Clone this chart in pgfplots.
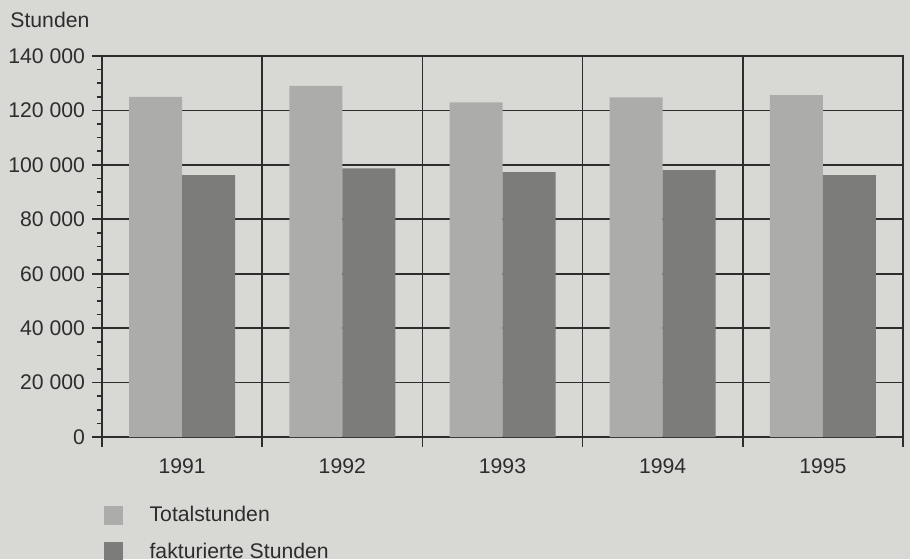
\documentclass[border=0pt]{standalone}
\usepackage{fontspec}
\setmainfont{Liberation Sans}
\usepackage{pgfplots}
\pgfplotsset{compat=1.18}
\definecolor{paper}{RGB}{216,216,213}
\definecolor{lightbar}{RGB}{172,172,170}
\definecolor{darkbar}{RGB}{124,124,122}
\definecolor{ink}{RGB}{45,45,45}
\begin{document}
\fontsize{10.6}{12.7}\selectfont
\begin{tikzpicture}
\useasboundingbox[fill=paper] (0,0) rectangle (455pt,279.5pt);
\node[anchor=west, text=ink, inner sep=0pt] at (5pt,269.5pt) {Stunden};
\begin{axis}[
  at={(51pt,61pt)}, anchor=south west,
  scale only axis, width=400.5pt, height=190.5pt,
  ybar=0pt, bar width=26.5pt,
  xmin=-0.5, xmax=4.5, ymin=0, ymax=140000,
  xtick={-0.5,0.5,1.5,2.5,3.5,4.5},
  xticklabels={\mbox{},\mbox{},\mbox{},\mbox{},\mbox{},\mbox{}},
  extra x ticks={0,1,2,3,4},
  extra x tick labels={1991,1992,1993,1994,1995},
  extra x tick style={major tick length=0pt, grid=none},
  ytick={0,20000,40000,60000,80000,100000,120000,140000},
  yticklabels={0,20\ 000,40\ 000,60\ 000,80\ 000,100\ 000,120\ 000,140\ 000},
  minor y tick num=3,
  xtick pos=bottom, ytick pos=left,
  xmajorgrids, ymajorgrids,
  tick align=outside, major tick length=4.75pt, minor tick length=2.5pt,
  axis line style={ink, line width=1pt},
  every tick/.style={ink, line width=0.8pt},
  major grid style={ink, line width=0.85pt},
  scaled y ticks=false,
  tick label style={text=ink, font=\fontsize{10.6}{12.7}\selectfont},
  xticklabel style={yshift=-7pt},
  legend style={at={(-0.006,-0.1595)}, anchor=north west, draw=none, fill=none,
    text=ink, font=\fontsize{10.6}{12.7}\selectfont,
    row sep=5pt, column sep=11.5pt, legend cell align=left},
  legend image code/.code={\fill[#1] (0pt,-4.75pt) rectangle (9.5pt,4.75pt);},
]
\addplot[fill=lightbar, draw=none] coordinates {(0,125000) (1,129000) (2,123000) (3,124800) (4,125600)};
\addplot[fill=darkbar, draw=none] coordinates {(0,96200) (1,98700) (2,97300) (3,98100) (4,96200)};
\legend{Totalstunden, fakturierte Stunden}
\end{axis}
\end{tikzpicture}
\end{document}
